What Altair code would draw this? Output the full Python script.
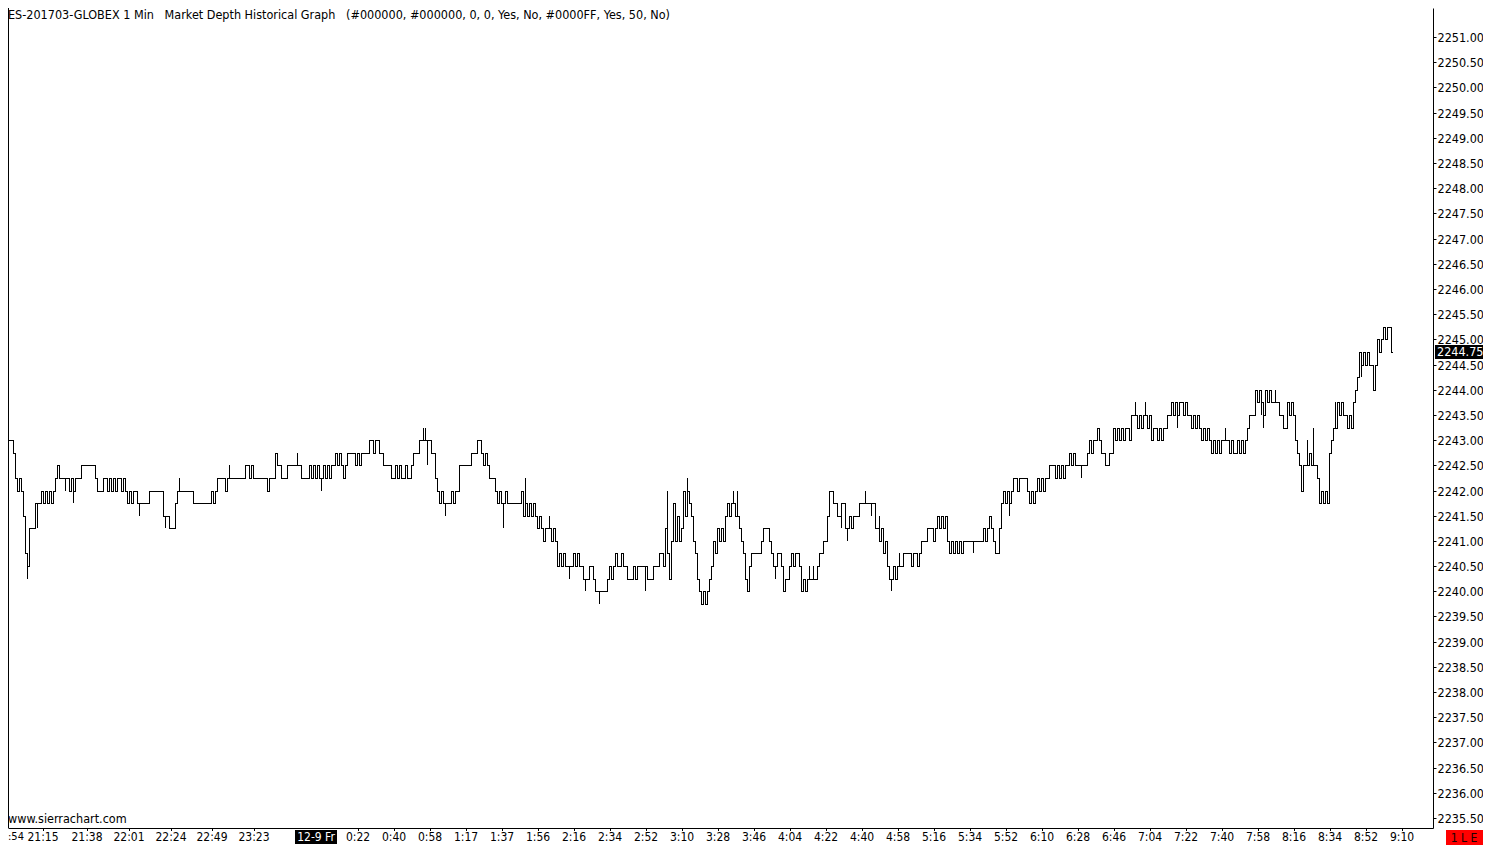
import altair as alt
import pandas as pd

# ---------------- data (price in ticks of 0.25 above 2240.00) ----------------
BASE_PRICE = 2240.00
TICK = 0.25
FIRST_OPEN_TICK = 11

close_ticks_a = [
    10, 11, 12, 12, 12, 11, 9, 8, 9, 8,
    6, 3, 2, 5, 5, 5, 7, 7, 7, 8,
    7, 8, 7, 8, 7, 8, 9, 10, 9, 9,
    9, 9, 9, 8, 9, 8, 9, 9, 9, 10,
    10, 10, 10, 10, 10, 10, 9, 8, 8, 8,
    9, 9, 8, 9, 8, 9, 8, 9, 9, 8,
    9, 8, 7, 8, 7, 8, 8, 7, 7, 7,
    7, 7, 7, 8, 8, 8, 8, 8, 8, 8,
    6, 6, 6, 5, 5, 5, 7, 8, 8, 8,
    8, 8, 8, 8, 8, 7, 7, 7, 7, 7,
    7, 7, 7, 7, 8, 7, 8, 9, 9, 9,
    9, 8, 9, 9, 9, 9, 9, 9, 9, 9,
    9, 10, 10,
]
close_ticks_b = [
    9, 10, 9, 9, 9, 9, 9,
    9, 9, 8, 9, 9, 9, 11, 10, 10, 9,
    9, 9, 10, 10, 10, 10, 10, 10, 10, 9,
    9, 9, 9, 10, 9, 10, 9, 10, 9, 9,
    10, 9, 10, 9, 10, 10, 11, 10, 11, 10,
    9, 10, 11, 11, 11, 11, 10, 11, 10, 11,
    11, 11, 11, 12, 12, 11, 12, 12, 11, 11,
    10, 10, 10, 10, 9, 9, 10, 9, 10, 9,
    9, 10, 9, 9, 10, 11, 11, 11, 12, 12,
    12, 12, 12, 12, 11, 11, 9, 8, 7, 8,
    7, 7, 7, 7, 8, 7, 8, 8, 10, 10,
    10, 10, 10, 10, 11, 11, 11, 12, 12, 11,
    10, 11, 10, 9, 9, 9, 8, 7, 8,
]
close_ticks_c = [
    7,
    7, 8, 7, 7, 7, 7, 7, 7, 7, 8,
    6, 7, 6, 7, 6, 7, 6, 5, 6, 5,
    4, 5, 5, 5, 4, 5, 4, 2, 3, 2,
    3, 2, 2, 2, 2, 3, 2, 3, 2, 2,
    1, 1, 1, 2, 2, 1, 0, 0, 0, 0,
    0, 0, 1, 2, 1, 2, 3, 2, 2, 3,
    2, 2, 1, 1, 1, 2, 1, 2, 2, 2,
    2, 2, 1, 1, 1, 2, 2, 2, 3, 3,
    2, 5, 3, 1, 4, 7, 4, 6, 4, 5,
    8, 6, 8, 7, 6, 4, 3, 1, 0, -1,
    0, -1, 0, 1, 2, 4, 3, 5, 4, 5,
    4, 6, 7, 6, 7, 7, 6, 6, 5, 4,
    3, 1, 0, 2,
]
close_ticks_d = [
    3, 3, 3, 3, 3, 4,
    5, 5, 5, 4, 3, 2, 2, 3, 3, 2,
    0, 1, 1, 2, 3, 2, 3, 3, 2, 0,
    1, 0, 1, 1, 1, 1, 1, 2, 3, 3,
    4, 4, 6, 8, 8, 7, 7, 6, 6, 7,
    7, 5, 5, 6, 5, 6, 6, 6, 7, 7,
    7, 7, 7, 7, 7, 7, 5, 5, 4, 5,
    3, 4, 2, 1, 1, 2, 1, 2, 2, 2,
    3, 3, 3, 3, 2, 3, 3, 2, 3, 4,
    4, 4, 5, 5, 5, 4, 5, 6, 5, 6,
    5, 6, 4, 3, 4, 3, 4, 3, 4, 3,
    4, 4, 4, 4, 4, 4, 4, 4, 4, 4,
    5, 4, 5, 6, 5, 4, 3, 3, 5,
]
close_ticks_e = [
    7,
    8, 7, 8, 7, 8, 9, 9, 8, 9, 9,
    9, 9, 8, 7, 8, 7, 8, 9, 8, 9,
    8, 9, 9, 10, 10, 10, 9, 10, 9, 10,
    9, 10, 10, 11, 10, 11, 10, 10, 10, 10,
    10, 10, 11, 12, 11, 12, 12, 13, 12, 11,
    11, 10, 10, 11, 11, 13, 12, 13, 12, 13,
    12, 13, 13, 12, 14, 14, 14, 13, 14, 13,
    14, 14, 13, 14, 12, 13, 13, 12, 13, 12,
    13, 13, 14, 14, 15, 14, 15, 14, 15, 15,
    14, 15, 14, 14, 13, 14, 13, 14, 13, 12,
    13, 12, 13, 12, 11, 12, 11, 12, 11, 12,
    12, 12, 12, 11, 12, 11, 11, 12, 11, 12,
    11, 12,
]
close_ticks_f = [
    13, 14, 14, 14, 16, 15, 16, 15,
    14, 16, 15, 16, 15, 15, 15, 15, 14, 14,
    13, 13, 15, 14, 15, 14, 12, 11, 10, 8,
    10, 10, 10, 11, 10, 10, 10, 9, 7, 8,
    7, 8, 7, 11, 12, 13, 13, 15, 14, 15,
    14, 14, 13, 14, 13, 15, 16, 17, 19, 18,
    19, 18, 19, 18, 18, 16, 18, 20, 19, 20,
    21, 20, 21, 21, 19,
]

# bars whose high / low reach beyond open and close
wick_high_bars = [88, 113, 147, 210, 211, 261, 273, 332, 342, 365, 367,
                  403, 405, 431, 438, 448, 566, 571, 611, 636, 652, 655, 666]
wick_high_ticks = [9, 10, 11, 13, 13, 9, 6, 8, 9, 8, 8,
                   2, 2, 8, 6, 3, 15, 15, 13, 16, 12, 13, 15]
wick_low_bars = [12, 17, 31, 35, 68, 81, 159, 212, 221, 250, 283, 291, 298,
                 321, 386, 419, 422, 434, 444, 485, 503, 539, 587, 629, 630, 679]
wick_low_ticks = [1, 5, 8, 7, 6, 5, 8, 10, 6, 5, 1, 0, -1,
                  0, 1, 5, 4, 6, 0, 3, 6, 9, 13, 14, 13, 17]

# time axis labels (bar position, text)
time_label_text = ["21:15", "21:38", "22:01", "22:24", "22:49", "23:23",
                   "0:22", "0:40", "0:58", "1:17", "1:37", "1:56", "2:16", "2:34",
                   "2:52", "3:10", "3:28", "3:46", "4:04", "4:22", "4:40", "4:58",
                   "5:16", "5:34", "5:52", "6:10", "6:28", "6:46", "7:04", "7:22",
                   "7:40", "7:58", "8:16", "8:34", "8:52", "9:10"]
time_label_bar = [20, 42, 63, 84, 104.5, 125.5,
                  177.5, 195.5, 213.5, 231.5, 249.5, 267.5, 285.5, 303.5,
                  321.5, 339.5, 357.5, 375.5, 393.5, 411.5, 429.5, 447.5,
                  465.5, 483.5, 501.5, 519.5, 537.5, 555.5, 573.5, 591.5,
                  609.5, 627.5, 645.5, 663.5, 681.5, 699.5]
first_label_text = ":54"
date_label_text = "12-9 Fr"
date_label_bar = 156.5

price_tick_values = [2235.5 + 0.5 * k for k in range(32)]

title_text = ("ES-201703-GLOBEX 1 Min\u00a0\u00a0\u00a0Market Depth Historical Graph"
              "\u00a0\u00a0\u00a0(#000000, #000000, 0, 0, Yes, No, #0000FF, Yes, 50, No)")
footer_text = "www.sierrachart.com"
status_text = "1 L E"

# ---------------- build OHLC table ----------------
close_ticks = (close_ticks_a + close_ticks_b + close_ticks_c +
               close_ticks_d + close_ticks_e + close_ticks_f)
hi_map = dict(zip(wick_high_bars, wick_high_ticks))
lo_map = dict(zip(wick_low_bars, wick_low_ticks))
rows = []
prev = FIRST_OPEN_TICK
for i, c in enumerate(close_ticks):
    o = prev
    h = max(o, c, hi_map.get(i, -99))
    l = min(o, c, lo_map.get(i, 99))
    rows.append({"bar": i,
                 "open": BASE_PRICE + o * TICK, "high": BASE_PRICE + h * TICK,
                 "low": BASE_PRICE + l * TICK, "close": BASE_PRICE + c * TICK})
    prev = c
bars = pd.DataFrame(rows)
labels = pd.DataFrame({"bar": time_label_bar, "text": time_label_text})
last = pd.DataFrame({"price": [bars["close"].iloc[-1]],
                     "text": ["%.2f" % bars["close"].iloc[-1]]})
date_df = pd.DataFrame({"bar": [date_label_bar], "text": [date_label_text]})

FONT = "DejaVu Sans Condensed, Liberation Sans Narrow, DejaVu Sans, sans-serif"
FS = 12.5
FS_T = 12
W, H = 1425, 820
PAD_R, PAD_B = 50, 17
xs = alt.Scale(domain=[2.5, 715.0], round=True, nice=False, zero=False)
ys = alt.Scale(domain=[2235.3025, 2251.5755], round=True, nice=False, zero=False)
xaxis = alt.Axis(orient="bottom", labels=False, ticks=False, grid=False,
                 title=None, domainColor="black", domainWidth=1)
yaxis = alt.Axis(orient="right", values=price_tick_values, format=".2f",
                 title=None, grid=False, tickSize=3, tickColor="black",
                 domainColor="black", labelColor="black", labelFont=FONT,
                 labelFontSize=FS, labelPadding=1, labelFlush=False,
                 labelOverlap=False, labelBound=False)

base = alt.Chart(bars)

verticals = base.transform_filter("datum.high > datum.low").mark_rule(
    color="black", strokeWidth=1, xOffset=0.5
).encode(
    x=alt.X("bar:Q", scale=xs, axis=xaxis),
    y=alt.Y("low:Q", scale=ys, axis=yaxis),
    y2="high:Q",
)
open_ticks = base.transform_calculate(
    x0="datum.bar - 0.5", x1="datum.bar + 0.5"
).mark_rule(color="black", strokeWidth=1, yOffset=0.5).encode(
    x=alt.X("x0:Q", scale=xs, axis=xaxis), x2="x1:Q",
    y=alt.Y("open:Q", scale=ys, axis=yaxis),
)
close_ticks_layer = base.transform_calculate(
    x0="datum.bar", x1="datum.bar + 1"
).mark_rule(color="black", strokeWidth=1, yOffset=0.5).encode(
    x=alt.X("x0:Q", scale=xs, axis=xaxis), x2="x1:Q",
    y=alt.Y("close:Q", scale=ys, axis=yaxis),
)

one = alt.Data(values=[{}])

left_line = alt.Chart(one).mark_rule(color="black").encode(
    x=alt.value(0.5), y=alt.value(0), y2=alt.value(H))

time_ticks = alt.Chart(labels).mark_rule(color="black", xOffset=0.5).encode(
    x=alt.X("bar:Q", scale=xs, axis=xaxis), y=alt.value(H), y2=alt.value(H + 3))
time_text = alt.Chart(labels).mark_text(
    font=FONT, fontSize=FS_T, color="black", baseline="middle", align="center"
).encode(x=alt.X("bar:Q", scale=xs, axis=xaxis), y=alt.value(H + 9), text="text:N")

first_text = alt.Chart(one).mark_text(
    font=FONT, fontSize=11, color="black", baseline="middle", align="left",
    text=first_label_text).encode(x=alt.value(0), y=alt.value(H + 9))

date_box = alt.Chart(date_df).mark_point(
    shape="M-1,-0.3333L1,-0.3333L1,0.3333L-1,0.3333Z", size=42 * 42,
    filled=True, color="black", opacity=1, strokeWidth=0
).encode(x=alt.X("bar:Q", scale=xs, axis=xaxis), y=alt.value(H + 9))
date_text = alt.Chart(date_df).mark_text(
    font=FONT, fontSize=FS_T, color="white", baseline="middle", align="center"
).encode(x=alt.X("bar:Q", scale=xs, axis=xaxis), y=alt.value(H + 9), text="text:N")

price_box = alt.Chart(last).mark_point(
    shape="M-1,-0.2917L1,-0.2917L1,0.2917L-1,0.2917Z", size=48 * 48,
    filled=True, color="black", opacity=1, strokeWidth=0
).encode(x=alt.value(W + 26), y=alt.Y("price:Q", scale=ys, axis=yaxis))
price_text = alt.Chart(last).mark_text(
    font=FONT, fontSize=FS, color="white", baseline="middle", align="left"
).encode(x=alt.value(W + 4), y=alt.Y("price:Q", scale=ys, axis=yaxis), text="text:N")

status_box = alt.Chart(one).mark_rect(color="#ff0000").encode(
    x=alt.value(W + 13), x2=alt.value(W + PAD_R), y=alt.value(H + 2), y2=alt.value(H + 17))
status_label = alt.Chart(one).mark_text(
    font=FONT, fontSize=FS_T, color="#200000", baseline="middle", align="center",
    text=status_text).encode(x=alt.value(W + 31), y=alt.value(H + 10))

title_layer = alt.Chart(one).mark_text(
    font=FONT, fontSize=FS, color="black", baseline="top", align="left",
    text=title_text).encode(x=alt.value(0), y=alt.value(1))
footer_layer = alt.Chart(one).mark_text(
    font=FONT, fontSize=FS, color="black", baseline="middle", align="left",
    text=footer_text).encode(x=alt.value(0), y=alt.value(H - 9))

chart = alt.layer(
    verticals, open_ticks, close_ticks_layer, left_line, time_ticks, time_text,
    first_text, date_box, date_text, price_box, price_text, status_box,
    status_label, title_layer, footer_layer
).properties(
    width=W, height=H,
    autosize=alt.AutoSizeParams(type="none"),
    padding={"left": 0, "top": 0, "right": PAD_R, "bottom": PAD_B},
    background="white",
).configure_view(stroke=None)

chart.save("out.html", embed_options={"renderer": "svg", "actions": False})
